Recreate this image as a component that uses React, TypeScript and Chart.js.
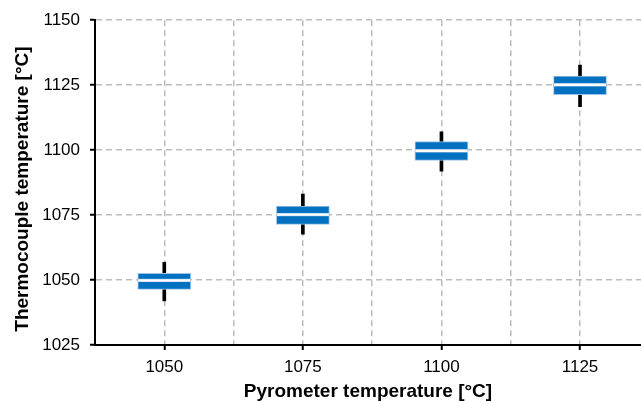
import React, { useEffect, useRef } from 'react';
import { Chart, registerables } from 'chart.js';
Chart.register(...registerables);

const categories = [1050, 1075, 1100, 1125];
const whiskerLow = [1042.0, 1067.7, 1091.9, 1116.7];
const whiskerHigh = [1056.8, 1083.1, 1107.0, 1132.7];
const q1 = [1046.4, 1071.4, 1096.0, 1121.3];
const q3 = [1052.6, 1078.5, 1103.3, 1128.5];
const medians = [1049.9, 1075.2, 1099.7, 1125.1];
const yTicks = [1025, 1050, 1075, 1100, 1125, 1150];
const xMin = 1037.5;
const xMax = 1136;
const medianHalf = 0.6;
const xTitle = 'Pyrometer temperature [°C]';
const yTitle = 'Thermocouple temperature [°C]';

const xGrid: number[] = [];
categories.forEach((c, i) => {
  xGrid.push(c);
  if (i < categories.length - 1) xGrid.push((c + categories[i + 1]) / 2);
});

const BLUE = '#0070C0';
const LIGHT = '#9DC3E6';
const GRID = '#bcbcbc';
const FONT = "'Liberation Sans', Arial, sans-serif";

const yTitlePlugin = {
  id: 'yTitlePlugin',
  afterDraw(chart: any) {
    const { ctx, chartArea } = chart;
    ctx.save();
    ctx.font = `bold 19px ${FONT}`;
    ctx.fillStyle = '#000000';
    ctx.textAlign = 'center';
    ctx.textBaseline = 'middle';
    ctx.translate(23, (chartArea.top + chartArea.bottom) / 2 + 6.5);
    ctx.rotate(-Math.PI / 2);
    ctx.fillText(yTitle, 0, 0);
    ctx.restore();
  },
};

export default function App() {
  const ref = useRef<HTMLCanvasElement | null>(null);
  useEffect(() => {
    if (!ref.current) return;
    const chart = new Chart(ref.current, {
      type: 'bar',
      plugins: [yTitlePlugin],
      data: {
        datasets: [
          {
            label: 'whisker',
            data: categories.map((c, i) => ({ x: c, y: [whiskerLow[i], whiskerHigh[i]] })) as any,
            backgroundColor: '#000000',
            barThickness: 3,
            grouped: false,
            order: 3,
          },
          {
            label: 'box',
            data: categories.map((c, i) => ({ x: c, y: [q1[i], q3[i]] })) as any,
            backgroundColor: BLUE,
            borderColor: LIGHT,
            borderWidth: 1,
            borderSkipped: false,
            barThickness: 53,
            grouped: false,
            order: 2,
          },
          {
            label: 'median',
            data: categories.map((c, i) => ({ x: c, y: [medians[i] - medianHalf, medians[i] + medianHalf] })) as any,
            backgroundColor: '#ffffff',
            borderColor: LIGHT,
            borderWidth: 0.8,
            borderSkipped: false,
            barThickness: 53,
            grouped: false,
            order: 1,
          },
        ],
      },
      options: {
        responsive: false,
        animation: false,
        layout: { padding: { top: 20, left: 0, right: 0, bottom: 0 } },
        plugins: { legend: { display: false }, tooltip: { enabled: false } },
        scales: {
          x: {
            type: 'linear',
            min: xMin,
            max: xMax,
            offset: false,
            afterBuildTicks: (scale: any) => {
              scale.ticks = xGrid.map((v) => ({ value: v }));
            },
            afterFit: (scale: any) => {
              scale.height = 56;
            },
            grid: {
              offset: false,
              color: GRID,
              lineWidth: 1.5,
              tickLength: 5,
              tickWidth: 2,
              tickColor: (ctx: any) => (categories.includes(ctx.tick?.value) ? '#000000' : 'rgba(0,0,0,0)'),
            },
            border: { display: true, color: '#000000', width: 2, dash: [6, 4] },
            ticks: {
              autoSkip: false,
              maxRotation: 0,
              padding: 7,
              color: '#000000',
              font: { family: FONT, size: 17 },
              callback: (v: any) => (categories.includes(Number(v)) ? String(v) : ''),
            },
            title: {
              display: true,
              text: xTitle,
              color: '#000000',
              font: { family: FONT, size: 19, weight: 'bold', lineHeight: 1 },
              padding: { top: 0, bottom: 0 },
            },
          },
          y: {
            type: 'linear',
            min: 1025,
            max: 1150,
            afterBuildTicks: (scale: any) => {
              scale.ticks = yTicks.map((v) => ({ value: v }));
            },
            afterFit: (scale: any) => {
              scale.width = 95;
            },
            grid: {
              color: GRID,
              lineWidth: 1.5,
              tickLength: 5,
              tickWidth: 2,
              tickColor: '#000000',
            },
            border: { display: true, color: '#000000', width: 2, dash: [6, 4] },
            ticks: {
              padding: 10,
              color: '#000000',
              font: { family: FONT, size: 17 },
              callback: (v: any) => String(v),
            },
            title: { display: false },
          },
        },
      },
    });
    return () => chart.destroy();
  }, []);
  return (
    <div style={{ position: 'absolute', left: 0, top: 0, width: 641, height: 401 }}>
      <canvas ref={ref} width={641} height={401} style={{ display: 'block' }} />
    </div>
  );
}
